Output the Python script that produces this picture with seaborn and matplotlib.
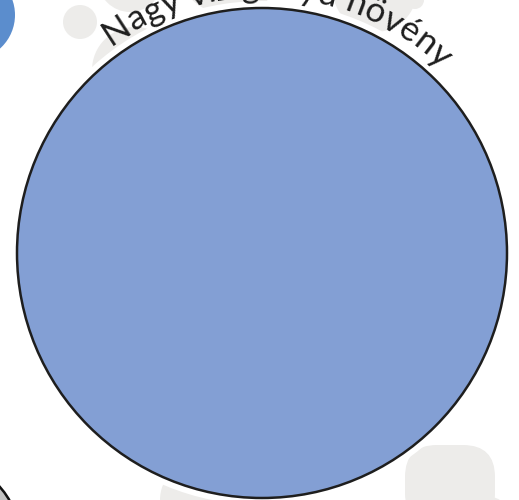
import numpy as np
import pandas as pd
import matplotlib
matplotlib.use("Agg")
import matplotlib.pyplot as plt
import seaborn as sns
from matplotlib.patches import Circle, FancyBboxPatch
from matplotlib.font_manager import FontProperties

# ---- data ----
main_label = "Nagy vízigényű növény"
main_value = [1.0]
main_color = "#839FD4"

# background (context) circles: x, y, r in pixel space of the zoomed view
bg_x = [80, 135, 130, 230, 375, 415, 200, 205, 290, 490]
bg_y = [22, 70, -20, -40, -10, 0, 500, 532, 540, 515]
bg_r = [17, 43, 32, 55, 42, 9, 40, 35, 45, 18]
bg_color = "#EDECEA"

sns.set_theme(style="white")
plt.rcParams['font.family'] = ['Lato', 'DejaVu Sans']

W, H = 519, 500
fig = plt.figure(figsize=(W / 100, H / 100), dpi=100)
ax = fig.add_axes([0, 0, 1, 1])
ax.set_xlim(0, W)
ax.set_ylim(H, 0)
ax.set_aspect("equal")
ax.axis("off")

# gray context blobs
for x, y, r in zip(bg_x, bg_y, bg_r):
    ax.add_patch(Circle((x, y), r, facecolor=bg_color, edgecolor="none", zorder=1))
ax.add_patch(FancyBboxPatch((405, 445), 90, 80,
                            boxstyle="round,pad=0,rounding_size=32",
                            facecolor=bg_color, edgecolor="none", zorder=1))

# neighbouring coloured circles
ax.add_patch(Circle((-30, 15), 45, facecolor="#5B8DCD", edgecolor="none", zorder=2))
ax.add_patch(Circle((-60, 540), 80, facecolor="#C2C2C2", edgecolor="#111111",
                    linewidth=1.8, zorder=2))

# main circle
cx, cy = 262, 253
R = 245 * np.sqrt(main_value[0])
ax.add_patch(Circle((cx, cy), R + 7, facecolor="white", edgecolor="none", zorder=3))
ax.add_patch(Circle((cx, cy), R, facecolor=main_color, edgecolor="#1E1E1E",
                    linewidth=1.8, zorder=4))

# curved label along the top of the circle
renderer = fig.canvas.get_renderer()
family = "Lato"


def text_w(s, size):
    fp = FontProperties(family=family, size=size)
    w_s, _, _ = renderer.get_text_width_height_descent(s + "x", fp, ismath=False)
    w_x, _, _ = renderer.get_text_width_height_descent("x", fp, ismath=False)
    return (w_s - w_x) if s else 0.0


Rb = R + 11
theta_c = np.deg2rad(86)
span = np.deg2rad(80)
target = span * Rb
fs = 20.0
fs = fs * target / text_w(main_label, fs)
starts = [text_w(main_label[:i], fs) for i in range(len(main_label) + 1)]
total = starts[-1]
theta0 = theta_c + (total / 2) / Rb
for i, ch in enumerate(main_label):
    if ch == " ":
        continue
    mid = (starts[i] + starts[i + 1]) / 2
    th = theta0 - mid / Rb
    x = cx + Rb * np.cos(th)
    y = cy - Rb * np.sin(th)
    ax.text(x, y, ch, fontsize=fs, family=family, color="#1E1E1E",
            ha="center", va="baseline",
            rotation=np.rad2deg(th) - 90, rotation_mode="anchor", zorder=6)

fig.savefig("out.png", dpi=100)
